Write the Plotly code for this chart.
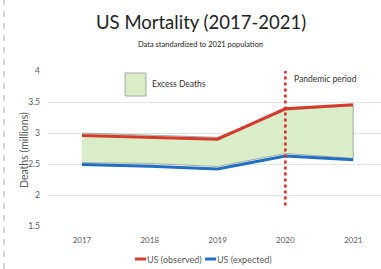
import plotly.graph_objects as go

years = [2017, 2018, 2019, 2020, 2021]
observed = [2.96, 2.93, 2.90, 3.39, 3.455]
expected = [2.49, 2.465, 2.42, 2.63, 2.57]
excess_top = [3.00, 2.97, 2.93, 3.37, 3.44]
excess_bottom = [2.52, 2.51, 2.46, 2.67, 2.59]
yticks = [1.5, 2, 2.5, 3, 3.5, 4]
pandemic_year = 2020

FONT = "Lato"
L, R, T, B = 48, 0, 71, 43
PW, PH = 381 - L - R, 269 - T - B


def px(x):
    return (x - L) / PW


def py(y):
    return (269 - B - y) / PH


fig = go.Figure()

fig.add_trace(go.Scatter(
    x=years + years[::-1], y=excess_top + excess_bottom[::-1],
    fill="toself", fillcolor="#d9edc9", mode="lines",
    line=dict(color="#a3aaa3", width=1), showlegend=False, hoverinfo="skip"))

fig.add_trace(go.Scatter(x=years, y=observed, mode="lines", name="US (observed)",
                         line=dict(color="#d63a2c", width=3), showlegend=False))
fig.add_trace(go.Scatter(x=years, y=expected, mode="lines", name="US (expected)",
                         line=dict(color="#1f6fc2", width=3), showlegend=False))

fig.add_shape(type="line", x0=pandemic_year, x1=pandemic_year, y0=1.83, y1=4.0,
              xref="x", yref="y", line=dict(color="#e02424", width=2.5, dash="dot"),
              layer="above")

# Excess deaths legend box
fig.add_shape(type="rect", xref="paper", yref="paper",
              x0=px(125), x1=px(146), y0=py(96), y1=py(73),
              fillcolor="#d9edc9", line=dict(color="#a3aaa3", width=1))
fig.add_annotation(text="Excess Deaths", xref="paper", yref="paper",
                   x=px(150), y=py(84), xanchor="left", yanchor="middle",
                   showarrow=False, font=dict(family=FONT, size=8.5, color="#333333"))
fig.add_annotation(text="Pandemic period", xref="paper", yref="paper",
                   x=px(292), y=py(79), xanchor="left", yanchor="middle",
                   showarrow=False, font=dict(family=FONT, size=8.5, color="#333333"))

fig.add_annotation(text="US Mortality (2017-2021)", xref="paper", yref="paper",
                   x=px(201), y=py(22), xanchor="center", yanchor="middle",
                   showarrow=False, font=dict(family=FONT, size=18.5, color="#222222"))
fig.add_annotation(text="Data standardized to 2021 population", xref="paper", yref="paper",
                   x=px(200), y=py(44), xanchor="center", yanchor="middle",
                   showarrow=False, font=dict(family=FONT, size=7.5, color="#222222"))

# y-axis title
fig.add_annotation(text="Deaths (millions)", xref="paper", yref="paper",
                   x=px(24), y=py(150), xanchor="center", yanchor="middle", textangle=-90,
                   showarrow=False, font=dict(family=FONT, size=10.5, color="#595959"))

# manual legend
for (x0, color, label) in [(135, "#d63a2c", "US (observed)"), (205, "#1f6fc2", "US (expected)")]:
    fig.add_shape(type="line", xref="paper", yref="paper",
                  x0=px(x0), x1=px(x0 + 11), y0=py(259), y1=py(259),
                  line=dict(color=color, width=3))
    fig.add_annotation(text=label, xref="paper", yref="paper",
                       x=px(x0 + 11), y=py(259), xanchor="left", yanchor="middle",
                       showarrow=False, xshift=-1,
                       font=dict(family=FONT, size=9, color="#595959"))

# left dashed border
fig.add_shape(type="line", xref="paper", yref="paper",
              x0=px(4), x1=px(4), y0=py(269), y1=py(0),
              line=dict(color="#b5b5b5", width=1.2, dash="6px,6px"))

fig.update_layout(
    width=381, height=269, autosize=False,
    margin=dict(l=L, r=R, t=T, b=B),
    plot_bgcolor="white", paper_bgcolor="white",
    font=dict(family=FONT, color="#595959", size=9),
    showlegend=False,
    xaxis=dict(range=[2016.5, 2021.41], tickvals=years, ticktext=[str(y) for y in years],
               showgrid=False, zeroline=False, showline=False, ticks="",
               ticklabelstandoff=8, automargin=False,
               tickfont=dict(size=8, color="#595959"), fixedrange=True),
    yaxis=dict(range=[1.5, 4.0], tickvals=yticks, ticktext=["1.5", "2", "2.5", "3", "3.5", "4"],
               showgrid=True, gridcolor="#e3e3e3", gridwidth=1, zeroline=False, showline=False,
               ticks="", ticklabelstandoff=7, automargin=False, fixedrange=True,
               tickfont=dict(size=8.5, color="#595959")),
)

fig.write_html("out.html", config={"displayModeBar": False},
               post_script="document.body.style.margin='0px';document.body.style.overflow='hidden';")
